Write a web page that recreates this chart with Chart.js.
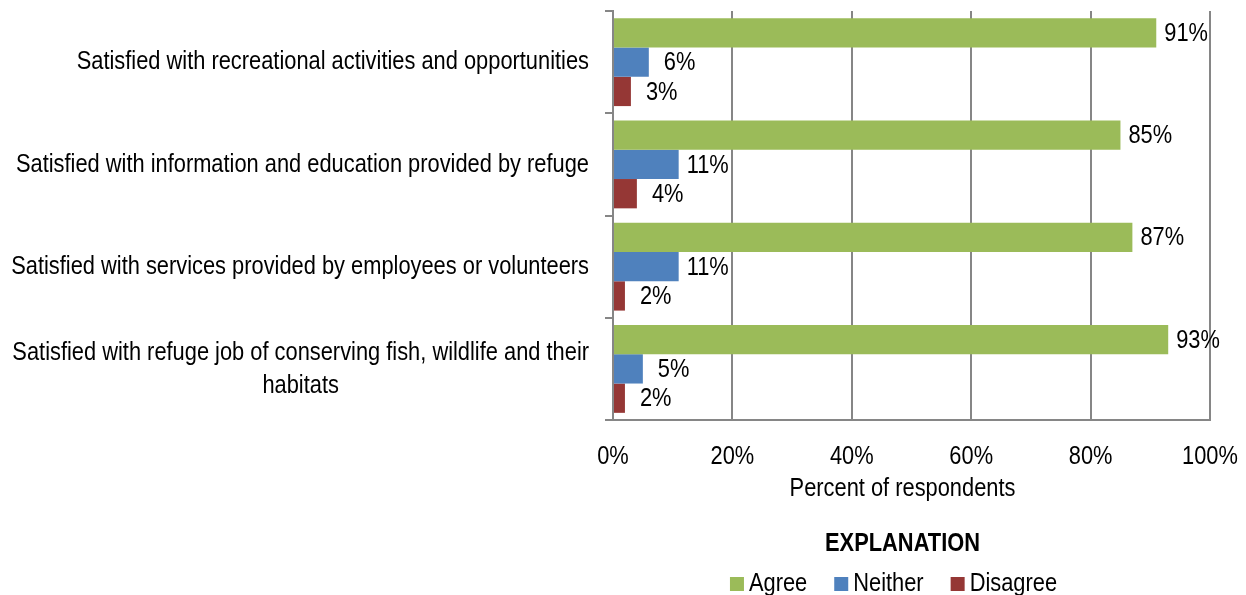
<!DOCTYPE html>
<html>
<head>
<meta charset="utf-8">
<script src="https://cdn.jsdelivr.net/npm/chart.js@4.4.1/dist/chart.umd.min.js"></script>
<style>
  html, body { margin: 0; padding: 0; background: #fff; }
  canvas { display: block; }
</style>
</head>
<body>
<canvas id="myChart" width="1246" height="595"></canvas>
<script>
// survey statements, one group of bars each
const categories = [
    "Satisfied with recreational activities and opportunities",
    "Satisfied with information and education provided by refuge",
    "Satisfied with services provided by employees or volunteers",
    ["Satisfied with refuge job of conserving fish, wildlife and their", "habitats"]
]
const agree = [91, 85, 87, 93]
const neither = [6, 11, 11, 5]
const disagree = [3, 4, 2, 2]
const xTicks = [0, 20, 40, 60, 80, 100]
const xTitle = "Percent of respondents"
const legendTitle = "EXPLANATION"

const FONT = "'Liberation Sans', Arial, sans-serif"
const GRID = "#868686"
const NARROW = 0.84   // squeeze text horizontally, no narrow face installed

// draw text squeezed sideways so it reads like a narrow face
const narrowText = (ctx, text, x, y, align) => {
    ctx.save()
    ctx.translate(x, y)
    ctx.scale(NARROW, 1)
    ctx.textAlign = align
    ctx.fillText(text, 0, 0)
    ctx.restore()
}
const narrowWidth = (ctx, text) => ctx.measureText(text).width * NARROW

// category labels, x tick labels, axis title and legend
const textLayer = {
    id: "textLayer",
    afterDraw(chart) {
        const ctx = chart.ctx
        const area = chart.chartArea
        const yScale = chart.scales.y
        const xScale = chart.scales.x
        ctx.save()
        ctx.font = "26px " + FONT
        ctx.fillStyle = "#000"
        ctx.textBaseline = "middle"

        // category labels: block right-aligned next to the axis, lines centred inside it
        const lineH = 33
        categories.forEach((label, i) => {
            const lines = Array.isArray(label) ? label : [label]
            const w = Math.max(...lines.map(l => narrowWidth(ctx, l)))
            const cx = area.left - 24 - w / 2
            const cy = yScale.getPixelForTick(i)
            const top = cy - (lines.length - 1) * lineH / 2
            lines.forEach((l, j) => narrowText(ctx, l, cx, top + j * lineH, "center"))
        })

        // x tick labels and title
        xTicks.forEach(v => narrowText(ctx, v + "%", xScale.getPixelForValue(v), area.bottom + 37, "center"))
        const midX = (area.left + area.right) / 2 - 9
        narrowText(ctx, xTitle, midX, area.bottom + 69, "center")

        // legend
        ctx.font = "bold 26px " + FONT
        narrowText(ctx, legendTitle, midX, area.bottom + 124, "center")
        ctx.font = "26px " + FONT
        const items = chart.data.datasets.map(ds => ({ text: ds.label, color: ds.backgroundColor, w: narrowWidth(ctx, ds.label) }))
        const box = 14, gapText = 5, gapItem = 27
        const total = items.reduce((s, it) => s + box + gapText + it.w, 0) + gapItem * (items.length - 1)
        let x = midX - 9 - total / 2
        const ly = area.bottom + 164
        items.forEach(it => {
            ctx.fillStyle = it.color
            ctx.fillRect(x, ly - box / 2, box, box)
            ctx.fillStyle = "#000"
            narrowText(ctx, it.text, x + box + gapText, ly, "left")
            x += box + gapText + it.w + gapItem
        })
        ctx.restore()
    }
}

// percent labels just past the end of each bar
const valueLabels = {
    id: "valueLabels",
    afterDatasetsDraw(chart) {
        const ctx = chart.ctx
        ctx.save()
        ctx.font = "26px " + FONT
        ctx.fillStyle = "#000"
        ctx.textBaseline = "middle"
        chart.data.datasets.forEach((ds, di) => {
            chart.getDatasetMeta(di).data.forEach((bar, i) => {
                const v = ds.data[i]
                const gap = v >= 10 ? 8 : 15
                narrowText(ctx, v + "%", bar.x + gap, bar.y + 1, "left")
            })
        })
        ctx.restore()
    }
}

const ctx = document.getElementById("myChart").getContext("2d")
const myChart = new Chart(ctx, {
    type: "bar",
    data: {
        labels: categories,
        datasets: [
            { label: "Agree", data: agree, backgroundColor: "#9BBB59" },
            { label: "Neither", data: neither, backgroundColor: "#4F81BD" },
            { label: "Disagree", data: disagree, backgroundColor: "#953735" }
        ]
    },
    options: {
        indexAxis: "y",
        responsive: false,
        animation: false,
        devicePixelRatio: 1,
        layout: { padding: { top: 11, right: 36, left: 0, bottom: 0 } },
        datasets: {
            bar: { barPercentage: 1, categoryPercentage: 0.86 }
        },
        scales: {
            x: {
                min: 0,
                max: 100,
                afterBuildTicks: scale => { scale.ticks = xTicks.map(v => ({ value: v })) },
                afterFit: scale => { scale.height = 175 },
                ticks: { display: false },
                grid: { color: GRID, lineWidth: 2, drawTicks: false },
                border: { color: GRID, width: 2 }
            },
            y: {
                afterFit: scale => { scale.width = 613 },
                ticks: { display: false },
                grid: { offset: true, drawOnChartArea: false, tickLength: 8, color: GRID, lineWidth: 2 },
                border: { color: GRID, width: 2 }
            }
        },
        plugins: {
            legend: { display: false },
            tooltip: { enabled: false }
        }
    },
    plugins: [textLayer, valueLabels]
})
</script>
</body>
</html>
